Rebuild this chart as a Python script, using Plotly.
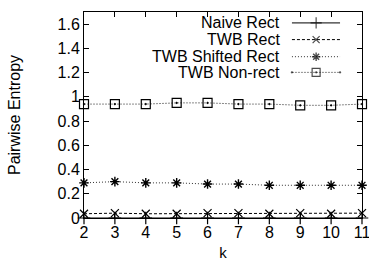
import plotly.graph_objects as go

k = [2, 3, 4, 5, 6, 7, 8, 9, 10, 11]
naive_rect = [0, 0, 0, 0, 0, 0, 0, 0, 0, 0]
twb_rect = [0.035, 0.04, 0.035, 0.035, 0.04, 0.04, 0.035, 0.04, 0.035, 0.04]
twb_shifted = [0.29, 0.30, 0.29, 0.29, 0.28, 0.28, 0.27, 0.27, 0.27, 0.27]
twb_nonrect = [0.94, 0.94, 0.94, 0.95, 0.95, 0.94, 0.94, 0.93, 0.93, 0.94]
series_names = ["Naive Rect", "TWB Rect", "TWB Shifted Rect", "TWB Non-rect"]
y_ticks = [0, 0.2, 0.4, 0.6, 0.8, 1, 1.2, 1.4, 1.6]
y_tick_labels = ["0", "0.2", "0.4", "0.6", "0.8", "1", "1.2", "1.4", "1.6"]

FONT = "Liberation Sans, Arial, sans-serif"
styles = [
    dict(color="black", dash="solid", symbol="cross-thin-open", size=9, width=1.2),
    dict(color="black", dash="3px,2px", symbol="x-thin-open", size=8, width=1.2),
    dict(color="#333333", dash="1px,2px", symbol="asterisk-open", size=8, width=1.4),
    dict(color="#888888", dash="2px,1px", symbol="square-open-dot", size=9, width=1.2),
]
data = [naive_rect, twb_rect, twb_shifted, twb_nonrect]

fig = go.Figure()
for name, vals, st in zip(series_names, data, styles):
    fig.add_trace(go.Scatter(
        x=k, y=vals, mode="lines+markers", name=name, showlegend=False,
        line=dict(color=st["color"], dash=st["dash"], width=1),
        marker=dict(symbol=st["symbol"], size=st["size"], color="black",
                    line=dict(color="black", width=st["width"])),
        cliponaxis=False,
    ))

# custom gnuplot-style legend (text left, sample right)
leg_y = [0.947, 0.866, 0.783, 0.707]
for name, st, yy in zip(series_names, styles, leg_y):
    fig.add_trace(go.Scatter(
        x=[0.748, 0.835, 0.921], y=[yy, yy, yy], xaxis="x2", yaxis="y2",
        mode="lines+markers", showlegend=False, hoverinfo="skip",
        line=dict(color=st["color"], dash=st["dash"], width=1),
        marker=dict(symbol=st["symbol"], size=[0, st["size"] - 1, 0], color="black",
                    line=dict(color="black", width=st["width"])),
    ))
    fig.add_annotation(x=0.712, y=yy, xref="paper", yref="paper", text=name,
                       showarrow=False, xanchor="right", yanchor="middle",
                       font=dict(family=FONT, size=16, color="black"))

axis_common = dict(showline=True, linecolor="black", linewidth=1, mirror="ticks",
                   ticks="inside", ticklen=5, tickcolor="black", showgrid=False,
                   zeroline=False, ticklabeloverflow="allow",
                   tickfont=dict(family=FONT, size=16, color="black"))
fig.update_layout(
    width=369, height=265,
    margin=dict(l=84, r=7, t=12, b=47, autoexpand=False),
    paper_bgcolor="white", plot_bgcolor="white",
    xaxis=dict(range=[2, 11], tickvals=k, ticktext=[str(v) for v in k],
               title=dict(text="k", font=dict(family=FONT, size=15, color="black"), standoff=7),
               **axis_common),
    yaxis=dict(range=[0, 1.7], tickvals=y_ticks, ticktext=y_tick_labels,
               title=dict(text="Pairwise Entropy", font=dict(family=FONT, size=16, color="black"), standoff=32),
               **axis_common),
    xaxis2=dict(range=[0, 1], overlaying="x", visible=False, fixedrange=True),
    yaxis2=dict(range=[0, 1], overlaying="y", visible=False, fixedrange=True),
    showlegend=False,
)
fig.write_html("out.html", config={"displayModeBar": False, "staticPlot": True},
               post_script="document.body.style.margin='0';")
